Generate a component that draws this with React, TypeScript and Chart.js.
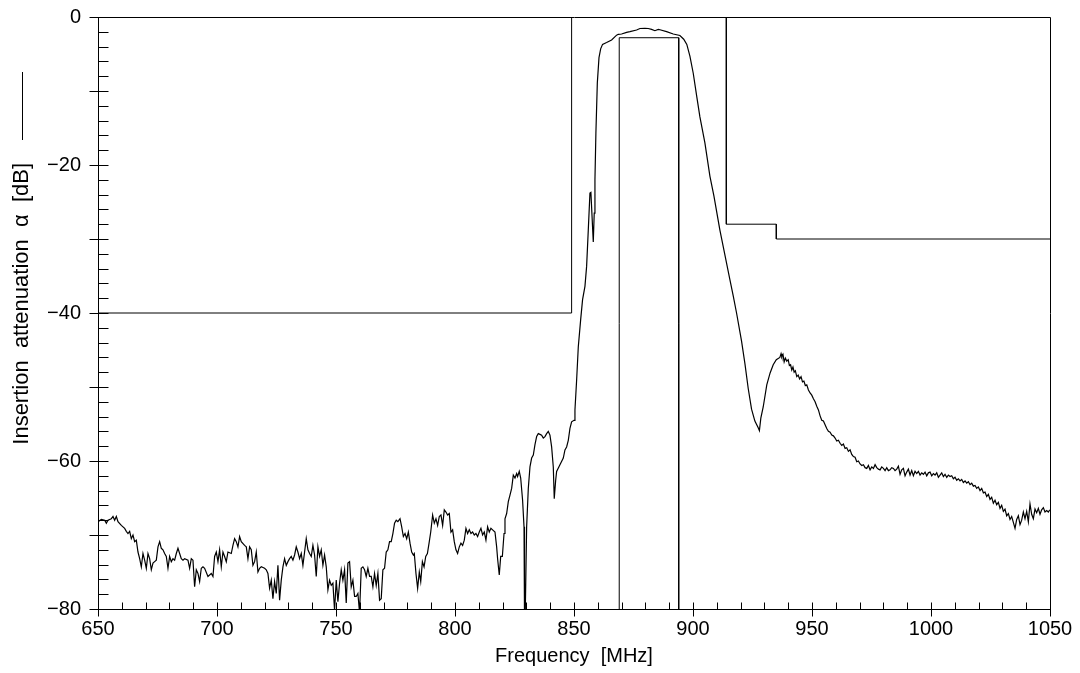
import React, { useEffect, useRef } from "react";
import { Chart, registerables } from "chart.js";

Chart.register(...registerables);

// Measured insertion attenuation, [frequency MHz, attenuation dB]
const lowBandTrace: [number, number][] = [
  [650.0, -68.2], [651.4, -67.9], [652.8, -68.0], [653.5, -68.4], [654.2, -68.0], [655.6, -67.8], [656.3, -67.5], [657.0, -68.0], [657.7, -67.5], [658.4, -68.2],
  [659.8, -68.7], [661.2, -69.1], [661.9, -69.5], [662.6, -69.8], [663.3, -69.5], [664.0, -70.5], [664.7, -70.0], [665.4, -70.9], [666.1, -70.7], [666.8, -72.3],
  [667.5, -73.2], [668.2, -74.3], [668.9, -72.5], [669.6, -73.4], [670.3, -74.5], [671.0, -72.5], [671.7, -73.2], [672.4, -74.7], [673.1, -73.8], [673.8, -73.6],
  [674.5, -73.4], [675.2, -71.6], [675.9, -70.9], [676.6, -71.8], [677.3, -72.0], [678.0, -72.5], [678.7, -72.9], [679.4, -74.5], [680.1, -72.9], [680.8, -73.6],
  [681.5, -73.2], [682.2, -73.4], [682.9, -72.5], [683.6, -71.8], [684.3, -72.5], [685.0, -73.2], [685.7, -73.4], [686.4, -73.2], [687.8, -73.4], [688.5, -74.5],
  [689.2, -73.2], [689.9, -73.4], [690.6, -77.0], [691.3, -74.7], [692.0, -75.2], [692.7, -76.3], [693.4, -74.5], [694.1, -74.3], [694.8, -74.5], [696.2, -75.6],
  [697.6, -75.2], [698.3, -75.6], [699.0, -72.9], [699.7, -72.3], [700.4, -73.6], [701.1, -72.0], [701.8, -74.3], [702.5, -72.3], [703.2, -72.9], [703.9, -73.6],
  [704.6, -72.3], [706.0, -72.5], [706.7, -71.4], [707.4, -70.5], [708.1, -70.9], [708.8, -71.6], [709.5, -70.2], [710.2, -70.9], [711.6, -71.4], [712.3, -71.6],
  [713.0, -73.2], [713.7, -71.6], [714.4, -72.0], [715.1, -74.1], [715.8, -73.6], [716.5, -72.3], [717.2, -75.0], [717.9, -74.5], [718.6, -74.3], [720.0, -74.5],
  [720.7, -74.7], [721.4, -75.2], [722.1, -77.2], [722.8, -76.1], [723.5, -78.6], [724.2, -76.3], [724.9, -77.9], [725.6, -74.1], [726.3, -78.8], [727.0, -76.1],
  [727.7, -74.3], [728.4, -73.2], [729.1, -74.1], [729.8, -73.6], [730.5, -73.2], [731.2, -72.9], [731.9, -73.4], [732.6, -72.7], [733.3, -71.6], [734.0, -72.3],
  [734.7, -73.2], [735.4, -72.5], [736.1, -74.1], [736.8, -72.3], [737.5, -70.5], [738.2, -72.0], [738.9, -72.5], [739.6, -72.9], [740.3, -71.4], [741.0, -72.7],
  [741.7, -75.6], [742.4, -71.6], [743.1, -72.9], [743.8, -72.0], [744.5, -74.1], [745.2, -72.7], [745.9, -74.3], [746.6, -77.4], [747.3, -76.1], [748.0, -76.8],
  [748.7, -76.5], [749.4, -80.2], [750.1, -76.1], [750.8, -79.0], [751.5, -76.5], [752.2, -74.7], [752.9, -76.1], [753.6, -74.7], [754.3, -79.2], [755.0, -73.8],
  [755.7, -73.6], [756.4, -77.0], [757.1, -76.1], [757.8, -78.3], [758.5, -78.3], [759.2, -77.9], [759.9, -80.5], [760.6, -74.5], [761.3, -74.3], [762.0, -74.7],
  [762.7, -75.6], [763.4, -74.5], [764.1, -75.6], [764.8, -75.6], [765.5, -77.0], [766.2, -75.2], [766.9, -76.8], [767.6, -75.2], [768.3, -78.8], [769.0, -78.6],
  [769.7, -74.7], [770.4, -74.5], [771.1, -72.3], [771.8, -72.0], [772.5, -70.9], [773.2, -70.9], [773.9, -69.8], [774.6, -68.4], [775.3, -68.0], [776.0, -68.2],
  [776.9, -67.8], [777.6, -68.9], [778.3, -70.2], [779.0, -69.8], [779.7, -70.5], [780.4, -69.6], [781.1, -71.1], [781.8, -72.3], [782.5, -72.7], [782.9, -72.5],
  [783.6, -75.2], [784.3, -77.2], [785.0, -75.0], [785.6, -76.3], [786.3, -73.6], [787.0, -74.3], [787.7, -72.9], [788.4, -72.5], [789.1, -71.1], [789.8, -69.6],
  [790.6, -67.3], [791.3, -68.4], [792.0, -67.8], [792.7, -68.7], [793.4, -67.5], [794.1, -67.3], [794.8, -68.7], [795.5, -66.6], [796.2, -66.9], [796.9, -67.3],
  [797.6, -67.1], [798.3, -69.6], [799.0, -69.3], [799.7, -70.9], [800.4, -72.0], [801.1, -72.5], [801.8, -71.6], [802.5, -71.1], [803.2, -71.4], [803.9, -70.7],
  [804.6, -69.1], [805.3, -69.8], [806.0, -69.3], [806.7, -69.8], [807.4, -69.6], [808.1, -70.0], [808.8, -69.8], [809.5, -70.2], [810.2, -69.6], [810.9, -69.1],
  [811.6, -70.0], [812.3, -69.6], [813.0, -70.7], [813.7, -68.9], [814.4, -69.6], [815.1, -69.1], [815.8, -69.3], [816.8, -69.6], [817.5, -71.6], [817.9, -73.2],
  [818.6, -75.4], [819.2, -72.9], [819.9, -72.9], [820.6, -69.8], [821.0, -67.8], [821.7, -67.1], [822.4, -65.5], [823.1, -64.6], [823.8, -63.7], [824.5, -61.9],
  [825.2, -62.3], [825.9, -61.7], [826.3, -62.1], [827.0, -61.4], [827.6, -62.3], [828.4, -65.3], [829.0, -68.9], [829.2, -81.0], [829.5, -81.0], [830.1, -68.9],
  [830.8, -63.7], [831.5, -60.8], [832.2, -59.6], [832.9, -59.2], [833.6, -57.8], [834.3, -56.7], [835.0, -56.3], [835.7, -56.4], [836.4, -56.5], [837.1, -56.9],
  [837.8, -56.7], [838.5, -56.3], [839.2, -56.0], [839.9, -56.5], [840.6, -58.1], [841.3, -60.8], [841.7, -65.1], [842.3, -62.6], [842.7, -61.4], [844.1, -60.5],
  [845.5, -59.6], [846.2, -58.5], [846.9, -58.1], [847.6, -57.2], [848.3, -55.6], [849.0, -54.7]
];

const passBandTrace: [number, number][] = [
  [850.0, -54.5], [850.4, -53.1], [851.1, -49.1], [851.8, -44.6], [852.8, -40.9], [853.6, -38.2], [854.6, -36.4], [855.3, -33.7], [856.0, -28.8], [856.7, -23.8],
  [857.1, -23.7], [858.1, -30.4], [858.5, -26.5], [858.8, -22.0], [859.2, -15.7], [859.8, -8.9], [860.5, -5.5], [861.2, -4.3], [862.0, -3.7], [863.7, -3.45],
  [865.8, -3.1], [867.9, -2.45], [868.6, -2.34], [870.0, -2.3], [872.1, -2.07], [873.5, -1.98], [876.3, -1.76], [877.7, -1.55], [879.8, -1.52], [881.2, -1.55],
  [882.6, -1.67], [884.0, -1.85], [885.4, -1.67], [886.1, -1.72], [888.9, -1.98], [891.7, -2.3], [894.5, -2.5], [896.1, -3.0], [897.4, -3.7], [898.7, -5.3],
  [900.1, -7.6], [901.6, -10.8], [902.9, -13.5], [905.0, -17.0], [907.1, -21.5], [908.8, -24.2], [911.3, -28.8], [915.5, -35.5], [916.9, -37.7], [918.3, -40.0],
  [920.4, -43.8], [921.8, -46.8], [923.2, -50.2], [924.6, -53.0], [926.0, -54.6], [927.4, -55.5], [927.9, -55.9], [928.5, -54.2], [929.5, -52.7], [931.0, -49.7],
  [932.4, -48.1], [933.7, -47.0], [935.0, -46.3]
];

const highBandTrace: [number, number][] = [
  [936.5, -46.0], [937.0, -45.5], [937.3, -45.9], [937.8, -45.6], [938.3, -46.6], [938.8, -46.1], [939.4, -46.5], [940.0, -46.3], [940.5, -47.1], [941.0, -47.0],
  [941.5, -47.7], [942.0, -47.3], [942.5, -48.0], [943.0, -47.8], [943.6, -48.6], [944.2, -48.4], [944.8, -48.9], [945.4, -48.6], [946.0, -49.3], [946.6, -49.2],
  [947.2, -49.8], [947.8, -49.7], [948.5, -50.4], [949.2, -50.8], [949.9, -51.1], [950.6, -51.6], [951.3, -52.0], [952.0, -52.6], [952.7, -53.1], [953.4, -53.9],
  [954.1, -54.5], [954.8, -54.6], [955.5, -55.1], [956.2, -55.6], [956.9, -56.0], [957.6, -56.1], [958.3, -56.5], [959.0, -56.6], [959.7, -56.9], [960.4, -57.3],
  [961.1, -57.2], [961.8, -57.6], [962.5, -57.9], [963.2, -57.7], [963.9, -58.3], [964.6, -58.2], [965.3, -58.7], [966.0, -58.5], [966.7, -59.1], [967.4, -59.4],
  [968.1, -59.5], [968.8, -60.1], [969.5, -60.0], [970.2, -60.4], [970.9, -60.6], [971.6, -60.5], [972.3, -60.9], [973.0, -61.0], [973.7, -60.6], [974.4, -61.2],
  [975.1, -60.8], [975.8, -61.0], [976.5, -60.5], [977.2, -60.9], [977.9, -61.1], [978.6, -61.2], [979.3, -60.8], [980.0, -61.0], [980.7, -61.3], [981.4, -60.9],
  [982.1, -61.3], [982.8, -61.2], [983.5, -60.9], [984.2, -61.0], [984.9, -61.3], [985.6, -61.1], [986.3, -60.7], [987.0, -61.8], [987.7, -61.2], [988.4, -61.0],
  [989.1, -62.0], [989.8, -61.5], [990.5, -61.1], [991.2, -61.9], [991.9, -61.3], [992.6, -62.0], [993.3, -61.4], [994.0, -61.7], [994.7, -61.4], [995.4, -61.9],
  [996.1, -61.6], [996.8, -61.8], [997.5, -61.5], [998.2, -62.0], [998.9, -61.6], [999.6, -61.5], [1000.3, -62.0], [1001.0, -61.7], [1001.7, -61.9], [1002.4, -61.6],
  [1003.1, -62.2], [1003.8, -61.9], [1004.5, -61.6], [1005.2, -62.1], [1005.9, -61.8], [1006.6, -62.2], [1007.3, -61.9], [1008.0, -62.1], [1008.7, -62.0], [1009.4, -62.4],
  [1010.1, -62.2], [1010.8, -62.6], [1011.5, -62.4], [1012.2, -62.7], [1012.9, -62.5], [1013.6, -62.9], [1014.3, -62.7], [1015.0, -63.0], [1015.7, -62.8], [1016.4, -63.2],
  [1017.1, -63.0], [1017.8, -63.4], [1018.5, -63.3], [1019.2, -63.7], [1019.9, -63.5], [1020.6, -64.0], [1021.3, -63.7], [1022.0, -64.3], [1022.7, -64.2], [1023.4, -64.8],
  [1024.1, -64.5], [1024.8, -65.2], [1025.5, -64.9], [1026.2, -65.7], [1026.9, -65.3], [1027.6, -65.9], [1028.3, -65.6], [1029.0, -66.4], [1029.7, -66.0], [1030.4, -66.8],
  [1031.1, -66.5], [1031.8, -67.4], [1032.5, -67.1], [1033.2, -67.9], [1033.9, -67.5], [1034.6, -68.3], [1035.3, -69.1], [1036.0, -67.9], [1036.7, -67.4], [1037.4, -68.6],
  [1038.1, -68.0], [1038.8, -66.9], [1039.5, -67.8], [1040.2, -66.8], [1040.9, -68.2], [1041.6, -65.8], [1042.3, -67.2], [1043.0, -67.8], [1043.7, -66.5], [1044.4, -67.0],
  [1045.1, -66.4], [1045.8, -67.2], [1046.5, -66.6], [1047.2, -66.3], [1047.9, -66.9], [1048.6, -66.7], [1049.3, -66.9], [1049.9, -66.6]
];

// Tolerance mask
const lowStopX = [650, 849, 849];
const lowStopY = [-40, -40, 0];
const passX = [869, 869, 894, 894];
const passY = [-80, -2.8, -2.8, -80];
const highStopX = [914, 914, 935, 935, 1050];
const highStopY = [0, -28, -28, -30, -30];

// Axes
const xTickValues = [650, 700, 750, 800, 850, 900, 950, 1000, 1050];
const yTickValues = [0, -20, -40, -60, -80];
const xTitle = "Frequency  [MHz]";
const yTitle = "   Insertion  attenuation  \u03b1  [dB]";

const FONT = "'Liberation Sans', Arial, sans-serif";

const toPoints = (xs: number[], ys: number[]) => xs.map((x, i) => ({ x, y: ys[i] }));
const pairsToPoints = (arr: [number, number][]) => arr.map(([x, y]) => ({ x, y }));

const zeroPad = (s: any) => {
  s.paddingTop = 0;
  s.paddingBottom = 0;
  s.paddingLeft = 0;
  s.paddingRight = 0;
};

const framePlugin = {
  id: "frameTicks",
  afterDatasetsDraw(chart: any) {
    const { ctx, chartArea: a, scales } = chart;
    const xs = scales.x;
    const ys = scales.y;
    ctx.save();
    ctx.strokeStyle = "#000";
    ctx.lineWidth = 1;
    const L = Math.round(a.left) + 0.5;
    const R = Math.round(a.right) + 0.5;
    const T = Math.round(a.top) + 0.5;
    const B = Math.round(a.bottom) + 0.5;
    ctx.beginPath();
    ctx.moveTo(L, T); ctx.lineTo(R, T); ctx.lineTo(R, B); ctx.lineTo(L, B); ctx.closePath();
    for (let v = ys.min; v <= ys.max + 1e-6; v += 2) {
      const py = Math.round(ys.getPixelForValue(v)) + 0.5;
      const major = Math.abs(v % 10) < 1e-6;
      ctx.moveTo(major ? L - 9 : L, py);
      ctx.lineTo(L + 10, py);
    }
    for (let v = xs.min; v <= xs.max + 1e-6; v += 10) {
      const px = Math.round(xs.getPixelForValue(v)) + 0.5;
      const major = Math.abs(v % 50) < 1e-6;
      ctx.moveTo(px, B - 7);
      ctx.lineTo(px, major ? B + 7 : B);
    }
    ctx.stroke();
    const lx = 22.5;
    ctx.beginPath();
    ctx.moveTo(lx, a.top + 55);
    ctx.lineTo(lx, a.top + 123);
    ctx.stroke();
    ctx.restore();
  },
};

export default function App() {
  const ref = useRef<HTMLCanvasElement | null>(null);
  useEffect(() => {
    if (!ref.current) return;
    const lineStyle = { borderColor: "#000", borderWidth: 1, pointRadius: 0, tension: 0, fill: false, clip: 0 };
    const chart = new Chart(ref.current, {
      type: "line",
      data: {
        datasets: [
          { ...lineStyle, data: pairsToPoints([...lowBandTrace, ...passBandTrace, ...highBandTrace]), borderWidth: 1.2 },
          { ...lineStyle, data: toPoints(lowStopX, lowStopY) },
          { ...lineStyle, data: toPoints(passX, passY) },
          { ...lineStyle, data: toPoints(highStopX, highStopY) },
        ],
      },
      options: {
        animation: false,
        responsive: false,
        events: [],
        layout: { padding: { left: 0, right: 30, top: 17, bottom: 0 }, autoPadding: false },
        plugins: { legend: { display: false }, tooltip: { enabled: false } },
        scales: {
          x: {
            type: "linear",
            min: 650,
            max: 1050,
            grid: { display: false, drawTicks: false },
            border: { display: false },
            afterBuildTicks: (s: any) => { s.ticks = xTickValues.map((v) => ({ value: v })); },
            afterFit: (s: any) => { s.height = 64; zeroPad(s); },
            ticks: {
              color: "#000", padding: 8, maxRotation: 0, autoSkip: false,
              font: { family: FONT, size: 20 },
              callback: (v: any) => String(v),
            },
            title: { display: true, text: xTitle, color: "#000", font: { family: FONT, size: 20 }, padding: { top: 0, bottom: 5 } },
          },
          y: {
            type: "linear",
            min: -80,
            max: 0,
            grid: { display: false, drawTicks: false },
            border: { display: false },
            afterBuildTicks: (s: any) => { s.ticks = yTickValues.map((v) => ({ value: v })); },
            afterFit: (s: any) => { s.width = 98; zeroPad(s); },
            ticks: {
              color: "#000",
              padding: 17,
              autoSkip: false,
              font: { family: FONT, size: 20 },
              callback: (v: any) => (Number(v) < 0 ? "\u2212" + Math.abs(Number(v)) : String(v)),
            },
            title: { display: true, text: yTitle, color: "#000", font: { family: FONT, size: 22 }, padding: { top: 9, bottom: 0 } },
          },
        },
      },
      plugins: [framePlugin],
    });
    return () => chart.destroy();
  }, []);
  return (
    <div style={{ position: "absolute", left: 0, top: 0, width: 1080, height: 673, background: "#fff" }}>
      <canvas ref={ref} width={1080} height={673} style={{ display: "block" }} />
    </div>
  );
}
